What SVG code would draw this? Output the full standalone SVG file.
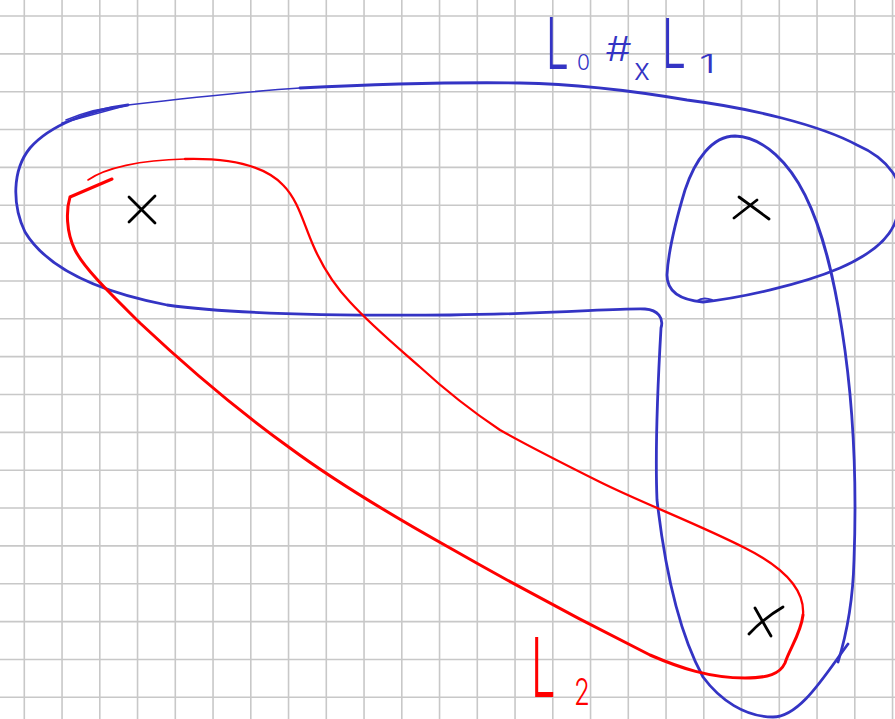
<svg xmlns="http://www.w3.org/2000/svg" width="895" height="719" viewBox="0 0 895 719">
<style>
.grid{stroke:#c8c8c8;stroke-width:1.6;fill:none}
.blue{stroke:#3434c4;fill:none;stroke-linecap:round;stroke-linejoin:round}
.red{stroke:#ff0000;fill:none;stroke-linecap:round;stroke-linejoin:round}
.mark{stroke:#000;stroke-width:2.8;fill:none;stroke-linecap:round}
.bt{fill:#3434c4;font-family:Inter,"Liberation Sans",Arial,sans-serif;font-weight:300}
.rt{fill:#ff0000;font-family:Inter,"Liberation Sans",Arial,sans-serif;font-weight:300}
</style>
<rect width="895" height="719" fill="#ffffff"/>
<g id="grid" class="grid">
<path d="M24.3,0V719M62.05,0V719M99.8,0V719M137.55,0V719M175.3,0V719M213.05,0V719M250.8,0V719M288.55,0V719M326.3,0V719M364.05,0V719M401.8,0V719M439.55,0V719M477.3,0V719M515.05,0V719M552.8,0V719M590.55,0V719M628.3,0V719M666.05,0V719M703.8,0V719M741.55,0V719M779.3,0V719M817.05,0V719M854.8,0V719M892.55,0V719"/>
<path d="M0,16H895M0,53.85H895M0,91.7H895M0,129.55H895M0,167.4H895M0,205.25H895M0,243.1H895M0,280.95H895M0,318.8H895M0,356.65H895M0,394.5H895M0,432.35H895M0,470.2H895M0,508.05H895M0,545.9H895M0,583.75H895M0,621.6H895M0,659.45H895M0,697.3H895"/>
</g>
<g id="connectors">
<g id="blue-region">
<path class="blue" stroke-width="2.8" d="M128,105 C90,110 50,125 30,148 C12,170 12,205 25,232 C45,265 90,290 167,305 C230,314 330,316 450,315 C550,314 620,308 645,309 C658,310 664,318 661,328 C658,380 655,450 657,500 C665,570 680,635 703,677 C720,700 745,717 773,717 C800,717 825,675 848,644"/>
<path class="blue" stroke-width="2.8" d="M838,662 C848,630 853,600 854,560 C857,480 853,400 842,330 C835,285 825,235 805,195 C790,165 765,137 735,136 C712,136 695,160 685,190 C676,220 668,255 667,275 C667,292 680,300 703,302 C740,298 800,285 840,268 C872,254 896,235 898,210 C908,183 887,158 857,145 C820,125 750,108 687,100 C640,92 580,84 520,83 C450,82 360,85 300,88"/>
<path class="blue" stroke-width="1.6" d="M300,88 C240,92 170,100 128,105 L62,123 M66,120 C85,112 105,107 125,106"/>
<path class="blue" stroke-width="2" d="M697,301 C701,298 707,298 712,300"/>
</g>
<g id="red-region">
<path class="red" stroke-width="1.6" d="M88,180 C105,168 140,160 185,159"/>
<path class="red" stroke-width="2.3" d="M185,159 C225,158 262,163 283,185 C298,200 303,222 313,245 C322,266 332,283 350,302 C372,326 395,345 420,367 C445,390 470,410 500,430 C530,447 560,462 600,482 C640,502 700,525 745,548 C785,568 805,590 803,615"/>
<path class="red" stroke-width="3" d="M803,615 C801,633 790,648 785,663 C780,674 768,678 745,678 C710,678 680,668 650,655 C600,630 520,588 450,548 C400,520 340,485 290,448 C240,412 190,370 140,323 C115,298 85,270 75,250 C66,232 66,210 70,197 L112,179"/>
</g>
</g>
<g id="point-1" class="mark"><path d="M129,197 L155,223 M155,196 L129,222"/></g>
<g id="point-2" class="mark"><path d="M739,197 L769,219 M757,200 L734,218"/></g>
<g id="point-3" class="mark"><path d="M755,608 Q764,624 771,636 M783,607 Q764,618 749,634"/></g>
<g id="label-top">
<text class="bt" font-size="54" transform="translate(546,69) scale(0.75,1.33)">L</text>
<text class="bt" font-size="21" x="577" y="70">0</text>
<text class="bt" font-size="34" font-style="italic" transform="translate(605,61) scale(1.2,1)">#</text>
<text class="bt" font-size="30" x="634" y="80">x</text>
<text class="bt" font-size="52" transform="translate(662,68) scale(0.82,1.33)">L</text>
<text class="bt" font-size="25" transform="translate(699,73) scale(1.7,1)">1</text>
</g>
<g id="label-l2">
<text class="rt" font-size="62" transform="translate(531,697) scale(0.7,1.33)">L</text>
<text class="rt" font-size="37" transform="translate(574,705) scale(0.7,1)">2</text>
</g>
</svg>
